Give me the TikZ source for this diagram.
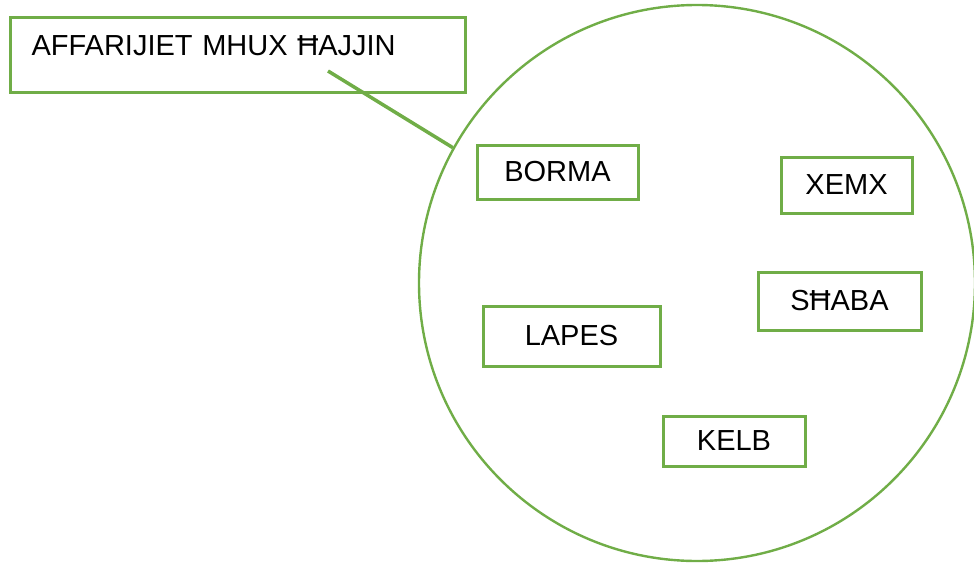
\documentclass[tikz,border=0pt]{standalone}
\usepackage{fontspec}
\setmainfont{Liberation Sans}
\definecolor{offgreen}{HTML}{70AD47}
\tikzset{
  itembox/.style={draw=offgreen, line width=3pt, rectangle, inner sep=0pt, font=\fontsize{29}{34}\selectfont},
  ring/.style={draw=offgreen, line width=2.4pt, circle, inner sep=0pt, minimum size=556pt},
  pointer/.style={draw=offgreen, line width=3.5pt}
}
\begin{document}
\begin{tikzpicture}[x=1pt,y=-1pt]
\useasboundingbox (0,0) rectangle (974,562);
\node[ring] (circ) at (697,283) {};
\node[itembox, inner xsep=21.5pt, text width=412.5pt, align=left, text height=38pt, text depth=37pt, anchor=north west] (title) at (8.5,16) {AFFARIJIET MHUX ĦAJJIN};
\coordinate (cstart) at (328,71);
\draw[pointer] (cstart) -- (circ.151.9);
\node[itembox, minimum width=161pt, minimum height=54pt] (borma) at (557.5,172) {BORMA};
\node[itembox, minimum width=177pt, minimum height=60pt] (lapes) at (571.5,336) {LAPES};
\node[itembox, minimum width=142pt, minimum height=50pt] (kelb) at (734,441) {KELB};
\node[itembox, minimum width=131pt, minimum height=56pt] (xemx) at (846.5,185) {XEMX};
\node[itembox, minimum width=163pt, minimum height=58pt] (shaba) at (839.5,301) {SĦABA};
\end{tikzpicture}
\end{document}
